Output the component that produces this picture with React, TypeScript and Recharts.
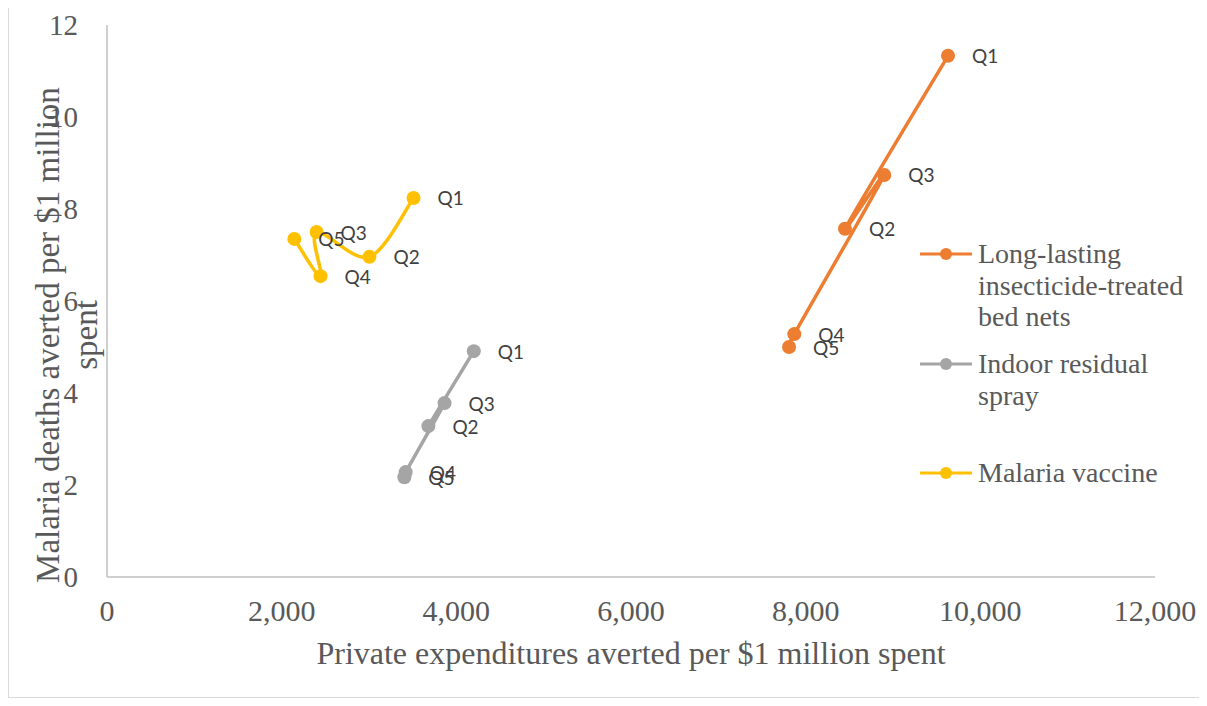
import React from 'react';
import { ScatterChart, Scatter, XAxis, YAxis } from 'recharts';

// values (x = private expenditures, y = deaths averted)
const quintiles = ['Q1', 'Q2', 'Q3', 'Q4', 'Q5'];
const netsX = [9630, 8450, 8900, 7870, 7810];
const netsY = [11.33, 7.57, 8.74, 5.28, 5.0];
const sprayX = [4200, 3680, 3865, 3420, 3405];
const sprayY = [4.91, 3.28, 3.78, 2.28, 2.17];
const vaccineX = [3510, 3005, 2400, 2445, 2145];
const vaccineY = [8.24, 6.96, 7.5, 6.54, 7.35];
const xTicks = [0, 2000, 4000, 6000, 8000, 10000, 12000];
const yTicks = [0, 2, 4, 6, 8, 10, 12];

const build = (xs: number[], ys: number[]) =>
  xs.map((x, i) => ({ x, y: ys[i], label: quintiles[i] }));

const series = [
  { name: 'Long-lasting insecticide-treated bed nets', lines: ['Long-lasting', 'insecticide-treated', 'bed nets'], color: '#ED7D31', data: build(netsX, netsY) },
  { name: 'Indoor residual spray', lines: ['Indoor residual', 'spray'], color: '#A5A5A5', data: build(sprayX, sprayY) },
  { name: 'Malaria vaccine', lines: ['Malaria vaccine'], color: '#FFC000', data: build(vaccineX, vaccineY) },
];

// Excel-like smoothed line (catmull-rom as cubic beziers)
const smooth = (context: any) => {
  let pts: number[][] = [];
  return {
    areaStart() {},
    areaEnd() {},
    lineStart() {
      pts = [];
    },
    point(x: number, y: number) {
      pts.push([x, y]);
    },
    lineEnd() {
      if (!pts.length) return;
      context.moveTo(pts[0][0], pts[0][1]);
      for (let i = 0; i < pts.length - 1; i++) {
        const p0 = pts[i - 1] || pts[i];
        const p1 = pts[i];
        const p2 = pts[i + 1];
        const p3 = pts[i + 2] || p2;
        context.bezierCurveTo(
          p1[0] + (p2[0] - p0[0]) / 6,
          p1[1] + (p2[1] - p0[1]) / 6,
          p2[0] - (p3[0] - p1[0]) / 6,
          p2[1] - (p3[1] - p1[1]) / 6,
          p2[0],
          p2[1]
        );
      }
    },
  };
};

const serif = '"Liberation Serif", "Times New Roman", serif';

const makeShape = (color: string) => (props: any) => {
  const { cx, cy, payload } = props;
  return (
    <g>
      <circle cx={cx} cy={cy} r={7} fill={color} />
      <text
        x={cx + 24}
        y={cy}
        dominantBaseline="central"
        fontFamily="Lato, sans-serif"
        fontSize={19}
        fill="#404040"
      >
        {payload.label}
      </text>
    </g>
  );
};

export default function App() {
  const legendTops = [249, 359, 468];
  return (
    <div
      style={{
        position: 'relative',
        width: 1198,
        height: 694,
        marginTop: -4,
        border: '1px solid #d9d9d9',
        boxSizing: 'border-box',
        background: '#fff',
      }}
    >
      <ScatterChart width={1196} height={692} margin={{ top: 20, right: 50, left: 38, bottom: 90 }}>
        <XAxis
          type="number"
          dataKey="x"
          domain={[0, 12000]}
          ticks={xTicks}
          height={30}
          tickSize={0}
          tickMargin={23}
          tickLine={false}
          axisLine={{ stroke: '#bfbfbf', strokeWidth: 1.5 }}
          tickFormatter={(v: number) => v.toLocaleString('en-US')}
          tick={{ fontFamily: serif, fontSize: 30, fill: '#595959' }}
        />
        <YAxis
          type="number"
          dataKey="y"
          domain={[0, 12]}
          ticks={yTicks}
          width={60}
          tickSize={0}
          tickMargin={29}
          tickLine={false}
          axisLine={{ stroke: '#bfbfbf', strokeWidth: 1.5 }}
          tick={{ fontFamily: serif, fontSize: 29, fill: '#595959' }}
        />
        {series.map((s) => (
          <Scatter
            key={s.name}
            name={s.name}
            data={s.data}
            fill={s.color}
            line={{ stroke: s.color, strokeWidth: 3.5 }}
            lineJointType={smooth as any}
            shape={makeShape(s.color)}
            isAnimationActive={false}
          />
        ))}
      </ScatterChart>

      <div
        style={{
          position: 'absolute',
          left: 622,
          top: 648,
          transform: 'translate(-50%, -50%)',
          whiteSpace: 'nowrap',
          fontFamily: serif,
          fontSize: 32,
          color: '#595959',
        }}
      >
        Private expenditures averted per $1 million spent
      </div>

      <div
        style={{
          position: 'absolute',
          left: 58,
          top: 330,
          transform: 'translate(-50%, -50%) rotate(-90deg)',
          whiteSpace: 'nowrap',
          textAlign: 'center',
          fontFamily: serif,
          fontSize: 33,
          lineHeight: '38px',
          color: '#595959',
        }}
      >
        Malaria deaths averted per $1 million
        <br />
        spent
      </div>

      {series.map((s, i) => (
        <div key={s.name} style={{ position: 'absolute', left: 911, top: legendTops[i] - 16 }}>
          <svg width={54} height={32} style={{ position: 'absolute', left: 0, top: 0 }}>
            <line x1={0} y1={16} x2={52} y2={16} stroke={s.color} strokeWidth={3} />
            <circle cx={26} cy={16} r={6} fill={s.color} />
          </svg>
          <div
            style={{
              position: 'absolute',
              left: 58,
              top: 0,
              whiteSpace: 'nowrap',
              fontFamily: serif,
              fontSize: 28,
              lineHeight: '31.5px',
              color: '#595959',
            }}
          >
            {s.lines.map((l) => (
              <div key={l}>{l}</div>
            ))}
          </div>
        </div>
      ))}
    </div>
  );
}
